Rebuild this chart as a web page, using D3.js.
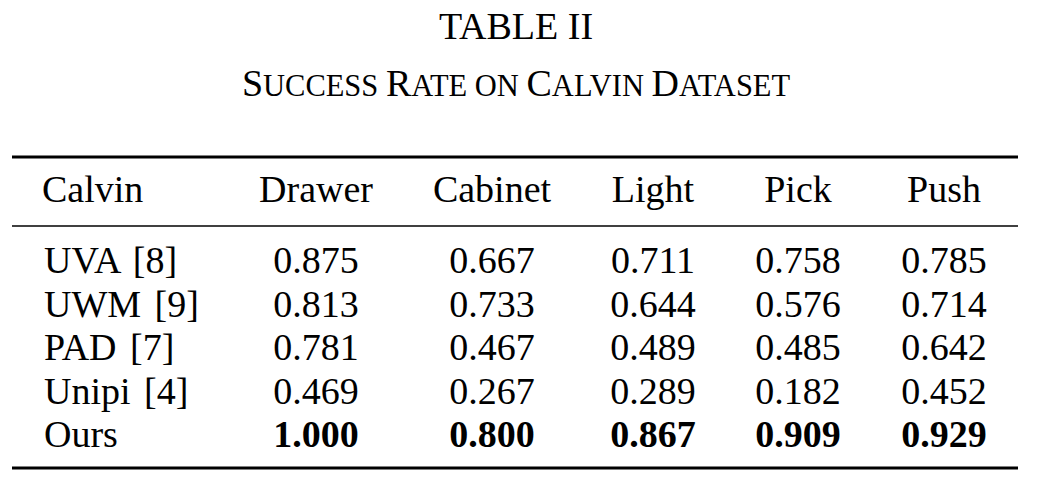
<!DOCTYPE html>
<html><head><meta charset="utf-8">
<script src="https://cdn.jsdelivr.net/npm/d3@7"></script>
<style>body{margin:0;background:#fff}text{font-family:"Liberation Serif","Times New Roman",serif;fill:#000}</style>
</head><body><svg id="c" width="1041" height="488"></svg>
<script>
const columns = ["Drawer","Cabinet","Light","Pick","Push"];
const methods = ["UVA [8]","UWM [9]","PAD [7]","Unipi [4]","Ours"];
const drawer = ["0.875","0.813","0.781","0.469","1.000"];
const cabinet = ["0.667","0.733","0.467","0.267","0.800"];
const light = ["0.711","0.644","0.489","0.289","0.867"];
const pick = ["0.758","0.576","0.485","0.182","0.909"];
const push = ["0.785","0.714","0.642","0.452","0.929"];
const series = [drawer,cabinet,light,pick,push];

const svg = d3.select("#c");
const x = d3.scaleOrdinal().domain(columns).range([316,492,653,798,944]);
const y = d3.scalePoint().domain(methods).range([273,447]);

svg.append("text").attr("x",516).attr("y",39).attr("text-anchor","middle").attr("font-size",38).text("TABLE II");
const sub = svg.append("text").attr("x",516).attr("y",96).attr("text-anchor","middle").attr("font-size",30.5);
[["S","UCCESS "],["R","ATE ON "],["C","ALVIN "],["D","ATASET"]].forEach(([a,b])=>{
  sub.append("tspan").attr("font-size",38).text(a);
  sub.append("tspan").text(b);
});
const line=(yy,w)=>svg.append("line").attr("x1",12).attr("x2",1018).attr("y1",yy).attr("y2",yy).attr("stroke","#000").attr("stroke-width",w);
line(157,3.2); line(226,1.6); line(468,3.2);

svg.append("text").attr("x",42).attr("y",202).attr("font-size",38).text("Calvin");
columns.forEach(c=>svg.append("text").attr("x",x(c)).attr("y",202).attr("text-anchor","middle").attr("font-size",38).text(c));
methods.forEach((m,i)=>{
  svg.append("text").attr("x",44).attr("y",y(m)).attr("font-size",38).attr("word-spacing",4).text(m);
  columns.forEach((c,j)=>svg.append("text").attr("x",x(c)).attr("y",y(m)).attr("text-anchor","middle")
    .attr("font-size",38).attr("font-weight",m==="Ours"?"bold":"normal").text(series[j][i]));
});
</script></body></html>
